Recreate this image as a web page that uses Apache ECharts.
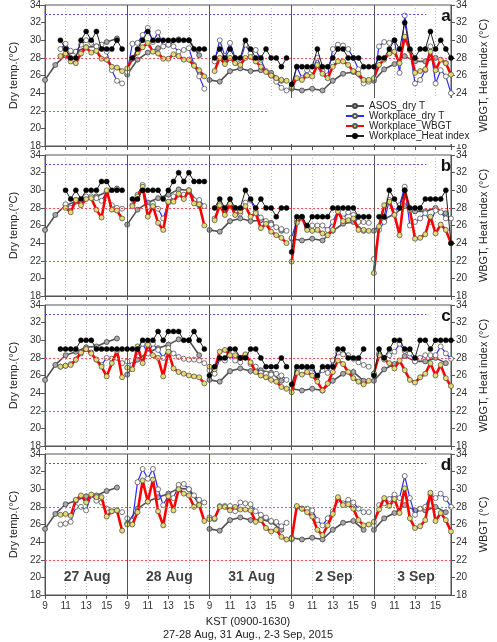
<!DOCTYPE html>
<html>
<head>
<meta charset="UTF-8">
<script src="https://cdn.jsdelivr.net/npm/echarts@6/dist/echarts.min.js"></script>
<title>KST dry temp / WBGT</title>
<style>
html, body { margin: 0; padding: 0; background: #fff; }
#main { width: 497px; height: 642px; }
</style>
</head>
<body>
<div id="main"></div>
<script type="text/javascript">
// categories
var days = ['27 Aug', '28 Aug', '31 Aug', '2 Sep', '3 Sep'];
var halfHours = [9, 9.5, 10, 10.5, 11, 11.5, 12, 12.5, 13, 13.5, 14, 14.5, 15, 15.5, 16, 16.5];
var asosHours = [9, 10, 11, 12, 13, 14, 15, 16];
var panelLetters = ['a', 'b', 'c', 'd'];
var rightNames = ['WBGT, Heat index (\u00b0C)', 'WBGT, Heat index (\u00b0C)', 'WBGT, Heat index (\u00b0C)', 'WBGT (\u00b0C)'];

// ASOS station, hourly (same in every panel)
var asosDryT = [
    [25.5, 27.2, 28.3, 28.7, 29.2, 29.3, 29.8, 30.2],
    [26.1, 27.8, 28.6, 29.1, 29.5, 30.1, 30.0, 28.3],
    [25.5, 25.3, 26.5, 26.8, 26.5, 26.6, 26.3, 25.4],
    [24.5, 24.3, 24.5, 24.3, 25.4, 26.2, 26.4, 25.4],
    [25.4, 26.7, 27.3, 28.2, 27.6, 27.6, 28.0, 27.4]
];

// panel a
var aDryT = [
    [null, null, null, 29.0, 29.6, 28.8, 28.7, 29.5, 30.0, 29.7, 29.3, 29.5, 28.7, 26.6, 25.4, 25.1],
    [26.4, 29.6, 29.7, 30.6, 31.4, 29.8, 30.9, 29.3, 29.5, 29.3, 28.7, 28.9, 29.1, 27.2, 25.9, 24.5],
    [null, 27.6, 30.0, 28.2, 29.7, 28.0, 27.8, 29.5, 28.5, 28.9, 27.8, 26.5, 26.0, 25.3, 24.6, 24.3],
    [24.7, 27.0, 25.7, 26.6, 26.6, 28.0, 26.5, 26.0, 29.0, 29.5, 29.4, 29.0, 28.0, 26.7, 25.1, 25.3],
    [25.6, 29.3, 29.8, 29.7, 30.0, 26.3, 32.8, 28.9, 25.1, 25.5, 26.6, 29.3, 25.1, 26.6, 25.9, 24.0]
];
var aWBGT = [
    [null, null, null, 28.2, 28.5, 27.6, 27.4, 28.5, 29.2, 28.6, 28.8, 27.9, 27.8, 27.0, 26.9, 26.5],
    [26.8, 27.9, 28.6, 29.2, 29.7, 28.7, 28.5, 27.9, 27.9, 28.4, 28.2, 27.8, 27.8, 27.1, 26.6, 25.9],
    [null, 26.5, 28.0, 27.3, 28.0, 27.4, 27.2, 28.0, 28.1, 27.6, 27.0, 26.4, 26.0, 25.7, 25.5, 25.4],
    [24.7, 25.7, 25.5, 26.0, 25.9, 27.2, 26.2, 25.7, 27.0, 27.6, 27.6, 27.2, 26.5, 26.2, 25.5, 25.5],
    [25.7, 27.2, 27.8, 28.5, 28.7, 27.4, 30.4, 28.9, 26.3, 26.5, 26.7, 28.7, 26.6, 27.8, 27.4, 26.1]
];
var aHeat = [
    [null, null, null, 30, 29, 28, 28, 30, 31, 30, 31, 29, 29, 29, 30, 29],
    [null, 28, 29, 30, 31, 30, 30, 30, 30, 30, 30, 30, 30, 29, 29, 29],
    [null, 28, 29, 28, 29, 28, 28, 30, 29, 28, 28, 29, 28, 28, 27, 28],
    [25, 27, 27, 27, 27, 29, 27, 27, 28, 29, 29, 28, 28, 28, 27, 27],
    [27, 28, 28, 29, 30, 29, 32, 29, 28, 29, 29, 31, 29, 30, 29, 28]
];

// panel b
var bDryT = [
    [null, null, null, null, 28.4, 28.0, 28.9, 28.6, 29.3, 29.3, 29.1, 28.8, 29.8, 28.3, 28.0, 27.9],
    [null, 28.3, 29.5, 30.6, 28.1, 28.5, 27.9, 26.8, 28.6, 29.3, 29.5, 29.5, 29.8, 28.9, 28.9, 28.2],
    [null, 26.8, 28.5, 27.9, 28.3, 28.0, 27.4, 28.6, 28.9, 27.6, 26.9, 26.5, 26.1, 25.8, 25.6, 25.4],
    [24.6, 26.6, 27.0, 25.7, 26.0, 26.0, 26.0, 25.5, 26.4, 27.7, 26.8, 27.5, 27.2, 26.4, 26.4, 26.3],
    [22.2, 25.5, 26.4, 28.9, 27.6, 28.3, 30.4, 26.0, 26.4, 26.8, 27.4, 26.4, 27.7, 27.5, 26.8, 26.8]
];
var bWBGT = [
    [null, null, null, null, 28.0, 27.5, 28.9, 28.3, 29.0, 29.1, 27.8, 26.9, 30.0, 27.8, 27.7, 26.8],
    [null, 28.2, 29.3, 30.4, 27.0, 28.2, 26.3, 25.5, 28.7, 28.7, 29.6, 29.0, 30.0, 28.5, 28.4, 26.0],
    [null, 26.6, 28.3, 27.2, 28.5, 27.2, 27.6, 28.2, 27.0, 27.4, 25.7, 26.2, 25.3, 24.9, 24.6, 24.0],
    [21.9, 26.3, 26.9, 25.5, 25.4, 25.5, 25.1, 24.9, 25.5, 27.6, 26.5, 26.6, 26.8, 25.5, 25.5, 25.4],
    [20.6, 25.9, 28.3, 28.7, 27.2, 24.9, 30.0, 27.8, 24.5, 24.6, 25.0, 27.0, 25.1, 26.1, 25.5, 24.0]
];
var bHeat = [
    [null, null, null, null, 30, 29, 30, 29, 30, 30, 30, 31, 31, 30, 30, 30],
    [null, 29, 29, 30, 30, 30, 30, 29, 30, 31, 32, 31, 32, 31, 31, 31],
    [null, 28, 29, 28, 29, 28, 28, 30, 29, 28, 29, 28, 28, 27, 28, 28],
    [23, 27, 27, 26, 27, 27, 27, 27, 28, 28, 28, 28, 28, 27, 27, 27],
    [null, 27, 27, 30, 29, 28, 30, 28, 28, 28, 29, 29, 29, 29, 30, 24]
];

// panel c
var cDryT = [
    [null, null, null, 27.0, 27.1, 27.3, 27.8, 28.5, 29.0, 28.6, 27.8, 27.2, 28.0, 27.9, 28.0, 27.4],
    [27.6, 27.2, 28.7, 29.6, 28.5, 29.6, 28.9, 28.0, 29.1, 28.5, 28.1, 27.9, 27.8, 27.8, 27.7, 27.4],
    [26.6, 26.2, 27.9, 27.7, 28.3, 27.7, 27.5, 28.3, 27.3, 27.0, 26.3, 26.2, 26.1, 26.2, 26.0, 25.5],
    [24.5, 26.6, 27.0, 26.8, 26.8, 25.9, 26.6, 26.3, 27.7, 28.6, 28.4, 28.3, 27.9, 27.5, 27.2, 27.0],
    [26.2, 28.5, 28.0, 28.3, 28.7, 29.6, 28.8, 28.5, 27.6, 28.0, 28.3, 28.3, 28.3, 29.3, 28.5, 27.9]
];
var cWBGT = [
    [null, null, null, 27.0, 27.1, 27.2, 27.8, 28.6, 29.0, 28.5, 27.8, 27.0, 25.9, 27.4, 28.8, 25.8],
    [26.9, 26.7, 29.3, 27.4, 29.5, 28.3, 28.0, 25.9, 28.7, 26.8, 26.4, 26.2, 26.0, 25.9, 25.8, 25.1],
    [27.0, 26.7, 28.7, 28.9, 28.3, 28.3, 28.0, 28.4, 27.5, 26.4, 26.0, 25.8, 25.5, 25.3, 24.7, 24.5],
    [24.1, 26.3, 26.1, 26.4, 26.0, 25.3, 24.3, 25.1, 26.4, 27.7, 27.3, 26.4, 25.7, 25.3, 25.0, 25.4],
    [26.2, 28.3, 27.8, 27.4, 26.8, 27.7, 26.6, 25.5, 25.2, 25.8, 26.2, 27.4, 26.0, 27.2, 25.7, 24.8]
];
var cHeat = [
    [null, null, null, 29, 29, 29, 29, 30, 30, 30, 29, 29, 29, 29, 29, 29],
    [29, 29, 29, 30, 30, 30, 31, 30, 31, 31, 31, 30, 30, 31, 30, 29],
    [26, 27, 28, 28, 29, 29, 28, 28, 29, 29, 28, 27, 27, 27, 28, 27],
    [25, 27, 27, 27, 27, 26, 27, 27, 27, 29, 29, 28, 28, 28, 29, null],
    [26, 29, 28, 29, 30, 30, 29, 29, 28, 30, 30, 29, 30, 30, 30, 30]
];

// panel d (no heat index)
var dDryT = [
    [null, null, null, 26.0, 26.1, 26.3, 28.0, 28.0, 27.6, 29.3, 28.7, 28.5, 27.8, 27.5, 27.6, 27.4],
    [26.7, 26.4, 30.8, 32.3, 31.2, 32.3, 30.0, 28.2, 29.3, 29.0, 30.5, 30.6, 30.0, 29.3, 28.8, 28.5],
    [26.8, 26.6, 28.1, 28.1, 28.1, 27.5, 28.5, 28.4, 28.3, 27.5, 27.1, 26.8, 26.4, 26.3, 25.8, 26.2],
    [24.3, 28.0, 27.8, 27.8, 27.6, 26.5, 25.9, 26.7, 27.5, 28.8, 28.4, 28.8, 28.5, 27.8, 27.4, 27.4],
    [25.9, 28.2, 28.4, 28.9, 29.4, 29.0, 31.5, 29.0, 27.1, 27.8, 28.0, 29.4, 29.0, 29.5, 28.9, 28.0]
];
var dWBGT = [
    [null, null, null, 27.1, 27.2, 27.0, 28.8, 29.3, 28.5, 29.4, 29.1, 29.1, 26.9, 27.5, 27.6, 25.3],
    [26.0, 26.0, 27.4, 31.0, 28.6, 31.1, 27.5, 25.9, 29.2, 27.6, 30.0, 29.5, 29.3, 28.0, 28.2, 26.4],
    [26.6, 26.7, 28.0, 28.0, 27.6, 28.0, 27.7, 27.7, 27.6, 26.3, 26.5, 25.6, 25.2, 25.4, 24.6, 24.3],
    [24.4, 28.1, 27.8, 27.4, 26.9, 25.4, 24.8, 25.9, 27.2, 29.1, 28.2, 28.3, 27.8, 26.5, 25.9, 26.0],
    [26.3, 27.7, 29.0, 28.1, 28.9, 27.3, 30.1, 26.7, 25.6, 25.8, 26.5, 29.6, 26.4, 27.3, 26.5, 25.2]
];

var panelDryT = [aDryT, bDryT, cDryT, dDryT];
var panelWBGT = [aWBGT, bWBGT, cWBGT, dWBGT];
var panelHeat = [aHeat, bHeat, cHeat, null];

// layout
var gridLeft = 33, gridWidth = 425, gridHeight = 141;
var gridTops = [5, 155, 305, 454];
var hoursPerDay = 8;
var fontFam = 'Liberation Sans, Arial, sans-serif';

// one point per reading; x = hours since 9:00 on day 1, days packed side by side
function toXY(perDay, hours) {
    var out = [];
    perDay.forEach(function (vals, d) {
        vals.forEach(function (v, k) {
            out.push([d * hoursPerDay + hours[k] - 9, v == null ? '-' : v]);
        });
        out.push([d * hoursPerDay + 7.8, '-']); // break line between days
    });
    return out;
}

var grids = [], xAxes = [], yAxes = [], series = [], graphics = [];

var refLines = [
    {yAxis: 28, lineStyle: {color: '#ff4a4a', type: [2, 2], width: 1}},
    {yAxis: 22, lineStyle: {color: '#ff4a4a', type: [2, 2], width: 1}},
    [{coord: [0, 32.9], lineStyle: {color: '#5050ff', type: [2, 2], width: 1}}, {coord: [37.1, 32.9]}]
];
for (var s = 1; s < days.length; s++) {
    refLines.push({xAxis: s * hoursPerDay, lineStyle: {color: '#555', type: 'solid', width: 1}});
}

for (var i = 0; i < 4; i++) {
    var last = (i === 3);
    grids.push({
        left: gridLeft, top: gridTops[i], width: gridWidth, height: gridHeight,
        show: true, borderColor: '#555', borderWidth: 1
    });
    xAxes.push({
        gridIndex: i, type: 'value', min: 0, max: 39.5, interval: 2,
        axisLine: {lineStyle: {color: '#555'}},
        axisTick: {show: true, length: 4, lineStyle: {color: '#555'}},
        axisLabel: {
            show: last, fontSize: 10, color: '#333', margin: 6, showMaxLabel: false,
            formatter: function (v) { return String(9 + (v % hoursPerDay)); }
        },
        splitLine: {show: true, lineStyle: {color: '#bdbdbd', type: [1, 2], width: 1}},
        name: last ? 'KST (0900-1630)\n27-28 Aug, 31 Aug., 2-3 Sep, 2015' : '',
        nameLocation: 'middle', nameGap: 20,
        nameTextStyle: {fontSize: 11, color: '#222', lineHeight: 13}
    });
    yAxes.push({
        gridIndex: i, type: 'value', min: 18, max: 34, interval: 2, position: 'left',
        axisLine: {show: true, lineStyle: {color: '#555'}},
        axisTick: {show: true, length: 4, lineStyle: {color: '#555'}},
        axisLabel: {fontSize: 10, color: '#333', margin: 4},
        splitLine: {show: false},
        name: 'Dry temp.(\u00b0C)', nameLocation: 'middle', nameGap: 21, nameRotate: 90,
        nameTextStyle: {fontSize: 11, color: '#222'}
    });
    yAxes.push({
        gridIndex: i, type: 'value', min: 18, max: 34, interval: 2, position: 'right',
        axisLine: {show: true, lineStyle: {color: '#555'}},
        axisTick: {show: true, length: 4, lineStyle: {color: '#555'}},
        axisLabel: {fontSize: 10, color: '#333', margin: 5},
        splitLine: {show: false},
        name: rightNames[i], nameLocation: 'middle', nameGap: 25, nameRotate: 90,
        nameTextStyle: {fontSize: 11, color: '#222'}
    });

    series.push({
        name: 'ASOS_dry T', type: 'line', xAxisIndex: i, yAxisIndex: i * 2,
        data: toXY(asosDryT, asosHours),
        symbol: 'circle', symbolSize: 5,
        lineStyle: {color: '#505050', width: 1.6},
        itemStyle: {color: '#a9a9a9', borderColor: '#444', borderWidth: 0.8},
        markLine: {silent: true, symbol: 'none', label: {show: false}, data: refLines},
        z: 2
    });
    series.push({
        name: 'Workplace_dry T', type: 'line', xAxisIndex: i, yAxisIndex: i * 2,
        data: toXY(panelDryT[i], halfHours),
        symbol: 'circle', symbolSize: 5,
        lineStyle: {color: '#2a2aff', width: 1.2},
        itemStyle: {color: '#ffffff', borderColor: '#555', borderWidth: 0.8},
        z: 3
    });
    series.push({
        name: 'Workplace_WBGT', type: 'line', xAxisIndex: i, yAxisIndex: i * 2,
        data: toXY(panelWBGT[i], halfHours),
        symbol: 'circle', symbolSize: 5,
        lineStyle: {color: '#ff0000', width: 2.6},
        itemStyle: {color: '#e6dc70', borderColor: '#555', borderWidth: 0.8},
        z: 4
    });
    if (panelHeat[i]) {
        series.push({
            name: 'Workplace_Heat index', type: 'line', xAxisIndex: i, yAxisIndex: i * 2,
            data: toXY(panelHeat[i], halfHours),
            symbol: 'circle', symbolSize: 5,
            lineStyle: {color: '#222', width: 1},
            itemStyle: {color: '#000', borderColor: '#000', borderWidth: 0.5},
            z: 5
        });
    }

    graphics.push({
        type: 'text', x: 446, y: gridTops[i] + 11, z: 100,
        style: {text: panelLetters[i], font: 'bold 17px ' + fontFam, fill: '#111',
                textAlign: 'center', textVerticalAlign: 'middle'}
    });
}

// day labels in the bottom panel
series.push({
    type: 'scatter', xAxisIndex: 3, yAxisIndex: 6, silent: true, symbolSize: 0,
    data: days.map(function (name, d) { return {name: name, value: [d * hoursPerDay + 4.1, 20]}; }),
    label: {show: true, position: 'inside', formatter: '{b}', fontSize: 14, fontWeight: 'bold', color: '#111'},
    z: 6
});

var option = {
    animation: false,
    backgroundColor: '#fff',
    textStyle: {fontFamily: fontFam},
    grid: grids,
    xAxis: xAxes,
    yAxis: yAxes,
    legend: {
        data: ['ASOS_dry T', 'Workplace_dry T', 'Workplace_WBGT', 'Workplace_Heat index'],
        orient: 'vertical', left: 268, top: 98,
        padding: [3, 6, 3, 77], itemGap: 0, itemWidth: 18, itemHeight: 5,
        backgroundColor: '#fff', z: 50,
        textStyle: {fontSize: 10, color: '#222', lineHeight: 9}
    },
    graphic: graphics,
    series: series
};

var myChart = echarts.init(document.getElementById('main'));
myChart.setOption(option);
</script>
</body>
</html>
